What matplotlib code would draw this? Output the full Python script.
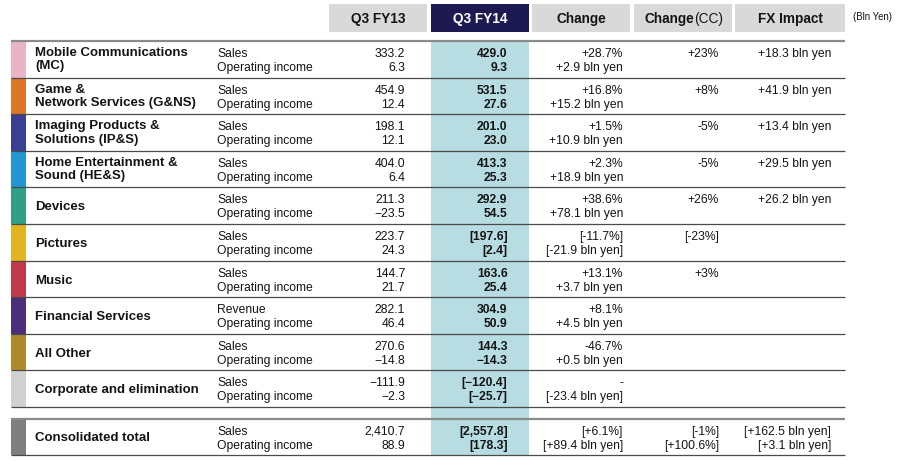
import matplotlib
matplotlib.use("Agg")
import matplotlib.pyplot as plt
from matplotlib.patches import Rectangle

# ---------------- data ----------------
headers = ["Q3 FY13", "Q3 FY14", "Change", "Change(CC)", "FX Impact"]
unit_label = "(Bln Yen)"

segments = [
    "Mobile Communications\n(MC)",
    "Game &\nNetwork Services (G&NS)",
    "Imaging Products &\nSolutions (IP&S)",
    "Home Entertainment &\nSound (HE&S)",
    "Devices",
    "Pictures",
    "Music",
    "Financial Services",
    "All Other",
    "Corporate and elimination",
]
total_label = "Consolidated total"

seg_colors = ["#e8b5c5", "#de7628", "#393f92", "#2297d2", "#2f9f86",
              "#e0b422", "#c13a4b", "#4b2f7b", "#af8a2c", "#cfd1d3"]
total_color = "#7f7f7f"

metric_top = ["Sales", "Sales", "Sales", "Sales", "Sales", "Sales", "Sales",
              "Revenue", "Sales", "Sales", "Sales"]
metric_bottom = ["Operating income"] * 11

fy13_sales = ["333.2", "454.9", "198.1", "404.0", "211.3", "223.7", "144.7",
              "282.1", "270.6", "\u2212111.9", "2,410.7"]
fy13_oi = ["6.3", "12.4", "12.1", "6.4", "\u221223.5", "24.3", "21.7",
           "46.4", "\u221214.8", "\u22122.3", "88.9"]
fy14_sales = ["429.0", "531.5", "201.0", "413.3", "292.9", "[197.6]", "163.6",
              "304.9", "144.3", "[\u2212120.4]", "[2,557.8]"]
fy14_oi = ["9.3", "27.6", "23.0", "25.3", "54.5", "[2.4]", "25.4",
           "50.9", "\u221214.3", "[\u221225.7]", "[178.3]"]
chg_sales = ["+28.7%", "+16.8%", "+1.5%", "+2.3%", "+38.6%", "[-11.7%]",
             "+13.1%", "+8.1%", "-46.7%", "-", "[+6.1%]"]
chg_oi = ["+2.9 bln yen", "+15.2 bln yen", "+10.9 bln yen", "+18.9 bln yen",
          "+78.1 bln yen", "[-21.9 bln yen]", "+3.7 bln yen", "+4.5 bln yen",
          "+0.5 bln yen", "[-23.4 bln yen]", "[+89.4 bln yen]"]
cc_sales = ["+23%", "+8%", "-5%", "-5%", "+26%", "[-23%]", "+3%", "", "", "",
            "[-1%]"]
cc_oi = ["", "", "", "", "", "", "", "", "", "", "[+100.6%]"]
fx_sales = ["+18.3 bln yen", "+41.9 bln yen", "+13.4 bln yen",
            "+29.5 bln yen", "+26.2 bln yen", "", "", "", "", "",
            "[+162.5 bln yen]"]
fx_oi = ["", "", "", "", "", "", "", "", "", "", "[+3.1 bln yen]"]

# ---------------- layout ----------------
W, H = 900, 461
FONT = ["Liberation Sans", "DejaVu Sans"]
TXT = "#141414"

fig = plt.figure(figsize=(W / 100, H / 100), dpi=100)
ax = fig.add_axes([0, 0, 1, 1])
ax.set_xlim(0, W)
ax.set_ylim(H, 0)
ax.axis("off")

hdr_boxes = [(329, 427), (431, 529), (532, 630), (634, 732), (735, 845)]
hdr_top, hdr_bot = 4, 32
hdr_fc = ["#d9d9d9", "#1c1a50", "#d9d9d9", "#d9d9d9", "#d9d9d9"]
hdr_tc = [TXT, "white", TXT, TXT, TXT]

body_top, body_bot = 41.0, 407.0
row_h = (body_bot - body_top) / len(segments)
tot_top, tot_bot = 418.7, 455.0
x_left, x_right = 11, 845
sw_w = 15

band_x = hdr_boxes[1]

col_right = [405, 507.5, 623, 719, 831]

# header boxes
for (x0, x1), fc, tc, lab in zip(hdr_boxes, hdr_fc, hdr_tc, headers):
    ax.add_patch(Rectangle((x0, hdr_top), x1 - x0, hdr_bot - hdr_top,
                           facecolor=fc, edgecolor="none", zorder=1))
    cx = (x0 + x1) / 2
    if lab.endswith("(CC)"):
        ax.text(cx + 11, 22.7, lab[:-4], ha="right", va="baseline",
                fontsize=9.8, fontweight="bold", color=tc, family=FONT)
        ax.text(cx + 11, 22.7, lab[-4:], ha="left", va="baseline",
                fontsize=9.8, color=tc, family=FONT)
    else:
        ax.text(cx, 22.7, lab, ha="center", va="baseline", fontsize=9.8,
                fontweight="bold", color=tc, family=FONT)
ax.text(853, 19.5, unit_label, ha="left", va="baseline", fontsize=6.9,
        color=TXT, family=FONT)

# highlight band for Q3 FY14
ax.add_patch(Rectangle((band_x[0], body_top), band_x[1] - band_x[0],
                       tot_bot - body_top, facecolor="#b7dce2",
                       edgecolor="none", zorder=1))

# rows
tops = [body_top + i * row_h for i in range(len(segments))] + [tot_top]
heights = [row_h] * len(segments) + [tot_bot - tot_top]
names = segments + [total_label]
colors = seg_colors + [total_color]

for i, (t, h, name, c) in enumerate(zip(tops, heights, names, colors)):
    ax.add_patch(Rectangle((x_left, t), sw_w, h, facecolor=c,
                           edgecolor="none", zorder=2))
    if "\n" in name:
        l1, l2 = name.split("\n")
        ax.text(35, t + 15, l1, ha="left", va="baseline", fontsize=9.5,
                fontweight="bold", color=TXT, family=FONT)
        ax.text(35, t + 28.5, l2, ha="left", va="baseline", fontsize=9.5,
                fontweight="bold", color=TXT, family=FONT)
    else:
        ax.text(35, t + h / 2 + 4.6, name, ha="left", va="baseline",
                fontsize=9.5, fontweight="bold", color=TXT, family=FONT)
    y1, y2 = t + 16, t + 30
    ax.text(217, y1, metric_top[i], ha="left", va="baseline", fontsize=8.7,
            color=TXT, family=FONT)
    ax.text(217, y2, metric_bottom[i], ha="left", va="baseline",
            fontsize=8.7, color=TXT, family=FONT)
    cols = [(fy13_sales, fy13_oi, "normal"), (fy14_sales, fy14_oi, "bold"),
            (chg_sales, chg_oi, "normal"), (cc_sales, cc_oi, "normal"),
            (fx_sales, fx_oi, "normal")]
    for xr, (a, b, w) in zip(col_right, cols):
        ax.text(xr, y1, a[i], ha="right", va="baseline", fontsize=8.7,
                fontweight=w, color=TXT, family=FONT, zorder=4)
        ax.text(xr, y2, b[i], ha="right", va="baseline", fontsize=8.7,
                fontweight=w, color=TXT, family=FONT, zorder=4)

# rules
ax.plot([x_left, x_right], [body_top, body_top], color="#8a8a8a", lw=1.6,
        zorder=3, solid_capstyle="butt")
for i in range(1, len(segments) + 1):
    y = body_top + i * row_h
    ax.plot([x_left, x_right], [y, y], color="#4a4a4a", lw=0.9, zorder=3,
            solid_capstyle="butt")
ax.plot([x_left, x_right], [tot_top, tot_top], color="#8a8a8a", lw=1.6,
        zorder=3, solid_capstyle="butt")
ax.plot([x_left, x_right], [tot_bot, tot_bot], color="#4a4a4a", lw=0.9,
        zorder=3, solid_capstyle="butt")

fig.savefig("out.png", dpi=100, facecolor="white")
